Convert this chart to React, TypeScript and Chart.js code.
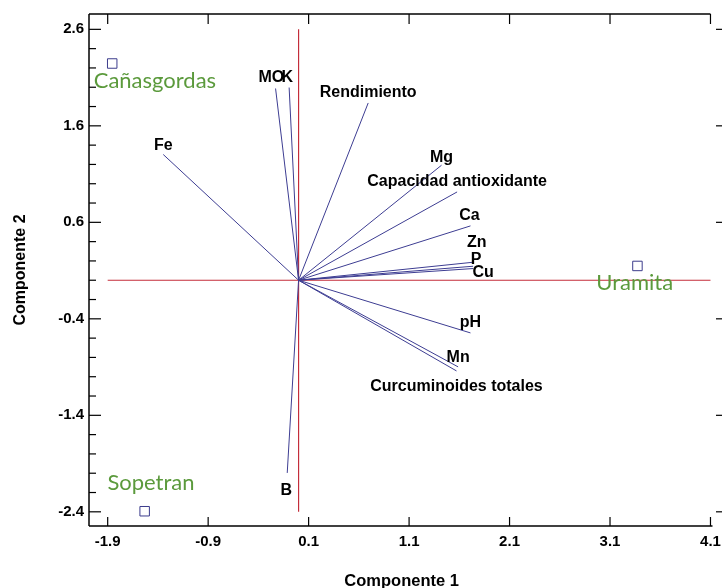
import React, { useEffect, useRef } from 'react';
import { Chart, registerables } from 'chart.js';

Chart.register(...registerables);

// ---- Data ----
const variables = [
  'Fe', 'MO', 'K', 'Rendimiento', 'Mg', 'Capacidad antioxidante', 'Ca',
  'Zn', 'P', 'Cu', 'pH', 'Mn', 'Curcuminoides totales', 'B',
];
const comp1 = [-1.347, -0.229, -0.094, 0.693, 1.423, 1.578, 1.711, 1.744, 1.737, 1.737, 1.711, 1.588, 1.572, -0.113];
const comp2 = [1.303, 1.987, 1.997, 1.837, 1.192, 0.915, 0.563, 0.187, 0.145, 0.121, -0.546, -0.898, -0.94, -1.997];

const sites = ['Cañasgordas', 'Uramita', 'Sopetran'];
const siteComp1 = [-1.855, 3.373, -1.532];
const siteComp2 = [2.246, 0.148, -2.394];

const xTicks = [-1.9, -0.9, 0.1, 1.1, 2.1, 3.1, 4.1];
const yTicks = [-2.4, -1.4, -0.4, 0.6, 1.6, 2.6];

const xTitle = 'Componente 1';
const yTitle = 'Componente 2';

// ---- Styles (label placement offsets in px) ----
const varLabelOffsets: [number, number][] = [
  [0, -9], [-4.2, -10.6], [-1.8, -9.6], [0, -10], [0, -8], [0, -10], [-1, -10],
  [3, -19.5], [3, -6.5], [10, 4], [0, -10], [0, -9], [0, 16], [-1, 18],
];
const siteLabelOffsets: [number, number][] = [[42.7, 17.7], [-2.7, 17], [6.3, -28.7]];

const VECTOR_COLOR = '#3d3d92';
const AXIS_RED = '#c42d3a';
const SITE_GREEN = '#5b9a3c';
const SANS = '"Liberation Sans", Arial, sans-serif';

const overlayPlugin = {
  id: 'overlay',
  afterDraw(chart: any) {
    const { ctx, chartArea, scales } = chart;
    const { left, top, bottom } = chartArea;
    const xs = scales.x;
    const ys = scales.y;
    ctx.save();
    ctx.strokeStyle = '#000';
    ctx.lineWidth = 1.5;
    const line = (x1: number, y1: number, x2: number, y2: number) => {
      ctx.beginPath();
      ctx.moveTo(x1, y1);
      ctx.lineTo(x2, y2);
      ctx.stroke();
    };
    const xEnd = xs.getPixelForValue(xTicks[xTicks.length - 1]);
    line(left, top, left, bottom);
    line(left, bottom, xEnd + 2, bottom);
    line(left, top, xEnd, top);
    ctx.lineWidth = 1.2;
    xTicks.forEach((v) => {
      const px = xs.getPixelForValue(v);
      line(px, bottom, px, bottom - 9);
      line(px, top, px, top + 10);
    });
    const yMin = yTicks[0];
    const yMax = yTicks[yTicks.length - 1];
    for (let i = 0; i <= Math.round((yMax - yMin) / 0.2); i++) {
      const v = yMin + i * 0.2;
      const py = ys.getPixelForValue(v);
      const major = i % 5 === 0;
      line(left, py, left + (major ? 12 : 7), py);
      if (major) line(chart.width - 6, py, chart.width, py);
    }

    // variable labels
    ctx.fillStyle = '#000';
    ctx.font = `bold 16px ${SANS}`;
    ctx.textAlign = 'center';
    ctx.textBaseline = 'middle';
    variables.forEach((name, i) => {
      const px = xs.getPixelForValue(comp1[i]) + varLabelOffsets[i][0];
      const py = ys.getPixelForValue(comp2[i]) + varLabelOffsets[i][1];
      ctx.fillText(name, px, py);
    });

    // site labels
    ctx.fillStyle = SITE_GREEN;
    ctx.font = `22px Lato, "Open Sans", sans-serif`;
    sites.forEach((name, i) => {
      const px = xs.getPixelForValue(siteComp1[i]) + siteLabelOffsets[i][0];
      const py = ys.getPixelForValue(siteComp2[i]) + siteLabelOffsets[i][1];
      ctx.fillText(name, px, py);
    });
    ctx.restore();
  },
};

export default function App() {
  const canvasRef = useRef<HTMLCanvasElement | null>(null);

  useEffect(() => {
    if (!canvasRef.current) return;
    const datasets: any[] = [];
    datasets.push({
      label: 'Sitios',
      data: sites.map((_, i) => ({ x: siteComp1[i], y: siteComp2[i] })),
      pointStyle: 'rect',
      pointRadius: 6.7,
      borderColor: '#3c3c8c',
      backgroundColor: 'rgba(0,0,0,0)',
      borderWidth: 1,
      showLine: false,
    });
    variables.forEach((name, i) => {
      datasets.push({
        label: name,
        data: [{ x: 0, y: 0 }, { x: comp1[i], y: comp2[i] }],
        showLine: true,
        borderColor: VECTOR_COLOR,
        borderWidth: 1,
        pointRadius: 0,
        fill: false,
      });
    });
    datasets.push({
      label: 'h',
      data: [{ x: xTicks[0], y: 0 }, { x: xTicks[xTicks.length - 1], y: 0 }],
      showLine: true,
      borderColor: AXIS_RED,
      borderWidth: 1.2,
      pointRadius: 0,
    });
    datasets.push({
      label: 'v',
      data: [{ x: 0, y: yTicks[yTicks.length - 1] }, { x: 0, y: yTicks[0] }],
      showLine: true,
      borderColor: AXIS_RED,
      borderWidth: 1.2,
      pointRadius: 0,
    });

    const chart = new Chart(canvasRef.current, {
      type: 'scatter',
      data: { datasets },
      plugins: [overlayPlugin],
      options: {
        animation: false,
        responsive: false,
        devicePixelRatio: 1,
        layout: { padding: { top: 14, right: 0, bottom: 0, left: 0 } },
        plugins: { legend: { display: false }, tooltip: { enabled: false } },
        scales: {
          x: {
            type: 'linear',
            min: -2.086,
            max: 4.138,
            grid: { display: false, drawTicks: false, tickLength: 0 },
            border: { display: false },
            afterBuildTicks: (axis: any) => {
              axis.ticks = xTicks.map((v) => ({ value: v }));
            },
            afterFit: (scale: any) => {
              scale.height = 62;
              scale.paddingLeft = 0;
              scale.paddingRight = 0;
            },
            ticks: {
              padding: 7,
              color: '#000',
              font: { family: SANS, size: 15, weight: 'bold' },
              callback: (v: any) => Number(v).toFixed(1),
            },
            title: {
              display: true,
              text: xTitle,
              color: '#000',
              font: { family: SANS, size: 16.5, weight: 'bold', lineHeight: 1 },
              padding: { top: 0, bottom: -2 },
            },
          },
          y: {
            type: 'linear',
            min: -2.547,
            max: 2.759,
            grid: { display: false, drawTicks: false, tickLength: 0 },
            border: { display: false },
            afterBuildTicks: (axis: any) => {
              axis.ticks = yTicks.map((v) => ({ value: v }));
            },
            afterFit: (scale: any) => {
              scale.width = 89;
              scale.paddingTop = 0;
              scale.paddingBottom = 0;
            },
            ticks: {
              padding: 5,
              color: '#000',
              font: { family: SANS, size: 15, weight: 'bold' },
              callback: (v: any) => Number(v).toFixed(1),
            },
            title: {
              display: true,
              text: yTitle,
              color: '#000',
              font: { family: SANS, size: 16, weight: 'bold', lineHeight: 1 },
              padding: { top: 13, bottom: 0 },
            },
          },
        },
      } as any,
    });
    return () => chart.destroy();
  }, []);

  return (
    <div style={{ position: 'absolute', left: 0, top: 0, width: 722, height: 588, background: '#fff' }}>
      <canvas ref={canvasRef} width={722} height={588} />
    </div>
  );
}
